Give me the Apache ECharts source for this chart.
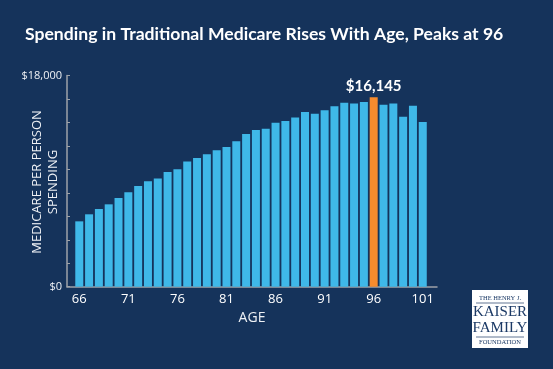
<!DOCTYPE html>
<html><head><meta charset="utf-8">
<script src="https://cdn.jsdelivr.net/npm/echarts@6/dist/echarts.min.js"></script>
<style>html,body{margin:0;padding:0;background:#15335b;}#c{width:553px;height:369px;}</style>
</head><body><div id="c"></div>
<script>
var ages = [66,67,68,69,70,71,72,73,74,75,76,77,78,79,80,81,82,83,84,85,86,87,88,89,90,91,92,93,94,95,96,97,98,99,100,101];
var spending = [5570,6170,6620,7020,7560,8040,8580,8980,9230,9770,10000,10680,10970,11280,11620,11900,12390,13010,13350,13470,13980,14120,14430,14890,14740,15030,15370,15680,15620,15740,16145,15510,15620,14490,15430,14030];
var xTickLabels = [66,71,76,81,86,91,96,101];
var yLabelValues = [0,18000];
var peakAge = 96;

var chart = echarts.init(document.getElementById('c'));
var data = ages.map(function(a,i){
  var isPeak = a === peakAge;
  return {
    value:[a, spending[i]],
    itemStyle:{color: isPeak ? '#f68b2d' : '#3fb8e8'},
    label: isPeak ? {show:true, position:'top', distance:4, formatter:'$16,145', color:'#ffffff', fontSize:15, fontWeight:'bold', fontFamily:'Lato'} : {show:false}
  };
});
chart.setOption({
  backgroundColor:'#15335b',
  animation:false,
  title:{text:'Spending in Traditional Medicare Rises With Age, Peaks at 96', left:20, top:20,
    textStyle:{color:'#ffffff', fontSize:17.6, fontWeight:'bold', fontFamily:'Lato'}},
  grid:{left:67, right:116, top:75.5, bottom:82.3, outerBoundsMode:'none', containLabel:false},
  xAxis:{type:'value', min:64.75, max:102.45,
    name:'AGE', nameLocation:'middle', nameGap:23,
    nameTextStyle:{color:'#eef1f5', fontSize:14, fontFamily:'Open Sans'},
    axisLine:{show:true, onZero:false, lineStyle:{color:'#9ea3a9', width:1.5}},
    axisTick:{show:false},
    splitLine:{show:false},
    axisLabel:{customValues:xTickLabels, color:'#ffffff', fontSize:13, fontFamily:'Open Sans', margin:6}
  },
  yAxis:{type:'value', min:0, max:18000, interval:2000,
    axisLine:{show:true, lineStyle:{color:'#9ea3a9', width:1.5}},
    axisTick:{show:true, inside:true, length:3, lineStyle:{color:'#9ea3a9'}},
    splitLine:{show:false},
    axisLabel:{color:'#eef1f5', fontSize:11, fontFamily:'Open Sans', margin:5,
      formatter:function(v){ return yLabelValues.indexOf(v) >= 0 ? '$' + v.toLocaleString('en-US') : ''; }}
  },
  series:[{type:'bar', barWidth:8, data:data}],
  graphic:[
    {type:'text', x:45, y:182, rotation:Math.PI/2, style:{text:'MEDICARE PER PERSON\nSPENDING', fill:'#eef1f5', font:'13px "Open Sans"', lineHeight:16, align:'center', verticalAlign:'middle'}},
    {type:'group', left:472, top:290, children:[
    {type:'rect', shape:{x:0,y:0,width:56,height:58}, style:{fill:'#ffffff'}},
    {type:'text', x:28, y:8, style:{text:'THE HENRY J.', fill:'#1c3a66', font:'6.5px "Liberation Serif"', align:'center', verticalAlign:'middle'}},
    {type:'line', shape:{x1:4,y1:13,x2:52,y2:13}, style:{stroke:'#1c3a66', lineWidth:0.7}},
    {type:'text', x:28, y:22, style:{text:'KAISER', fill:'#1c3a66', font:'15px "Liberation Serif"', align:'center', verticalAlign:'middle'}},
    {type:'text', x:28, y:38, style:{text:'FAMILY', fill:'#1c3a66', font:'15px "Liberation Serif"', align:'center', verticalAlign:'middle'}},
    {type:'line', shape:{x1:4,y1:47,x2:52,y2:47}, style:{stroke:'#1c3a66', lineWidth:0.7}},
    {type:'text', x:28, y:52.5, style:{text:'FOUNDATION', fill:'#1c3a66', font:'6.5px "Liberation Serif"', align:'center', verticalAlign:'middle'}}
  ]}]
});
</script></body></html>
